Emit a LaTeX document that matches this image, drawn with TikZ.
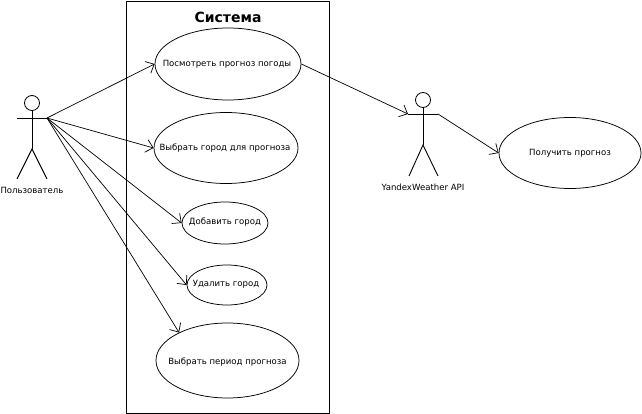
\documentclass[tikz,border=0pt]{standalone}
\usepackage{fontspec}
\setmainfont{DejaVu Sans}
\usetikzlibrary{shapes,arrows.meta,positioning}
\tikzset{
    usecase/.style={ellipse, draw=black, line width=0.75pt, inner sep=0pt},
    caption/.style={font=\fontsize{8.55}{10}\selectfont, text=black},
    head/.style={circle, draw=black, line width=0.8pt, minimum size=15pt, inner sep=0pt},
    limb/.style={line width=0.9pt},
    assoc/.style={-{Straight Barb[length=7pt,width=13pt]}, line width=0.7pt}
}

\begin{document}
\begin{tikzpicture}[x=1pt, y=-1pt]
        \useasboundingbox (0,0) rectangle (642,414);

        % System frame
        \node[draw=black, line width=0.9pt, minimum width=203pt, minimum height=412pt, inner sep=0pt] (frame) at (227.5,207) {};
        \node[font=\fontsize{14}{16}\selectfont\bfseries] (title) at (228,17) {Система};

        % Use cases
        \node[usecase, minimum width=146pt, minimum height=72pt] (view) at (228,64) {};
        \node[caption] (viewtext) at (227,64) {Посмотреть прогноз погоды};
        \node[usecase, minimum width=144pt, minimum height=71pt] (pick) at (226,148) {};
        \node[caption] (picktext) at (225,148) {Выбрать город для прогноза};
        \node[usecase, minimum width=86pt, minimum height=42pt] (add) at (225,223) {};
        \node[caption] (addtext) at (225,222) {Добавить город};
        \node[usecase, minimum width=80pt, minimum height=40pt] (del) at (227,285) {};
        \node[caption] (deltext) at (226,284) {Удалить город};
        \node[usecase, minimum width=143pt, minimum height=75pt] (period) at (227.5,360.5) {};
        \node[caption] (periodtext) at (227.5,362) {Выбрать период прогноза};
        \node[usecase, minimum width=142pt, minimum height=71pt] (get) at (570,153) {};
        \node[caption] (gettext) at (570,153) {Получить прогноз};

        % User actor
        \node[head] (userhead) at (32,103) {};
        \coordinate (userhip) at (32,149);
        \coordinate (userarm) at (17,118);
        \coordinate (userhand) at (47,118);
        \coordinate (userleg1) at (17,179);
        \coordinate (userleg2) at (47,179);
        \draw[limb] (userhead) -- (userhip);
        \draw[limb] (userarm) -- (userhand);
        \draw[limb] (userleg1) -- (userhip) -- (userleg2);
        \node[caption] (username) at (32,190) {Пользователь};

        % API actor
        \node[head] (apihead) at (423,100) {};
        \coordinate (apihip) at (423,145);
        \coordinate (apiarm) at (408,114);
        \coordinate (apihand) at (438,114);
        \coordinate (apileg1) at (409,176);
        \coordinate (apileg2) at (438,176);
        \draw[limb] (apihead) -- (apihip);
        \draw[limb] (apiarm) -- (apihand);
        \draw[limb] (apileg1) -- (apihip) -- (apileg2);
        \node[caption] (apiname) at (423,187) {YandexWeather API};

        % Connections
        \draw[assoc] (userhand) -- (view.west);
        \draw[assoc] (userhand) -- (pick.west);
        \draw[assoc] (userhand) -- (add.west);
        \draw[assoc] (userhand) -- (del.west);
        \draw[assoc] (userhand) -- (period.150);
        \draw[assoc] (view.east) -- (apiarm);
        \draw[assoc] (apihand) -- (get.west);
    \end{tikzpicture}
\end{document}
